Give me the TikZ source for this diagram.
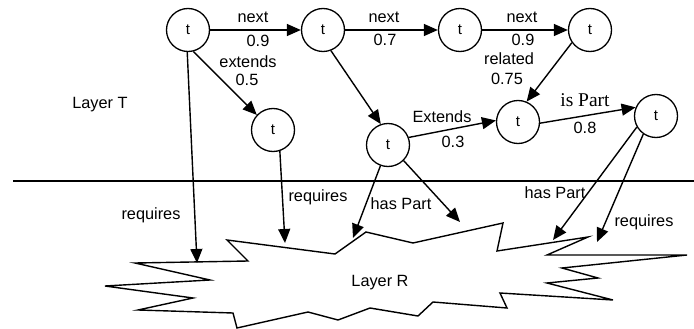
\documentclass[tikz,border=0pt]{standalone}
\usepackage{fontspec}
\setmainfont{Liberation Sans}
\newfontfamily\serifface{Liberation Serif}
\usetikzlibrary{arrows.meta}
\begin{document}
\begin{tikzpicture}[x=1pt,y=-1pt,
  tnode/.style={circle,draw,line width=1.3pt,minimum size=43pt,inner sep=0pt,font=\fontsize{15}{17}\selectfont},
  lbl/.style={inner sep=0pt,font=\fontsize{16.3}{18}\selectfont},
  serlbl/.style={inner sep=0pt,font=\serifface\fontsize{19.5}{21}\selectfont},
  conn/.style={line width=1.4pt,-{Triangle[length=14pt,width=12pt]}},
  plain/.style={line width=1.4pt}]
\useasboundingbox (0,0) rectangle (694,329);
% nodes
\node[tnode] (n1) at (188,30) {t};
\node[tnode] (n2) at (323,30) {t};
\node[tnode] (n3) at (460,30) {t};
\node[tnode] (n4) at (590,30) {t};
\node[tnode] (n5) at (273,130) {t};
\node[tnode] (n6) at (388,145) {t};
\node[tnode] (n7) at (518,122) {t};
\node[tnode] (n8) at (656,116) {t};
% layer separator
\coordinate (sepL) at (13,181);
\coordinate (sepR) at (694,181);
\draw[plain] (sepL) -- (sepR);
% Layer R starburst
\draw[plain,line join=miter] (227,240) -- (335,254) -- (366,232) -- (413,243) -- (503,223) -- (497,251)
  -- (588,237) -- (547,255) -- (687,255) -- (562,268) -- (598,278) -- (547,283) -- (613,300)
  -- (500,293) -- (507,308) -- (433,302) -- (418,316) -- (370,308) -- (338,320) -- (308,312)
  -- (237,328) -- (233,313) -- (138,310) -- (193,298) -- (105,286) -- (210,280) -- (135,263)
  -- (248,261) -- cycle;
\node[lbl] (layerR) at (380,283) {Layer R};
\node[lbl] (layerT) at (100,105) {Layer T};
% targets on Layer R
\coordinate (r1) at (197,263);
\coordinate (r2) at (285,243);
\coordinate (r3) at (353,238);
\coordinate (r4) at (460,222);
\coordinate (r5) at (553,240);
\coordinate (r6) at (597,242);
% connectors in layer T
\draw[conn] (n1) -- (n2);
\draw[conn] (n2) -- (n3);
\draw[conn] (n3) -- (n4);
\draw[conn] (n1.-76) -- (n5.137);
\draw[conn] (n2.-69) -- (n6.109);
\draw[conn] (n4.-145) -- (n7.67);
\draw[conn] (n6.20) -- (n7.176);
\draw[conn] (n7.-3) -- (n8.157);
% connectors to layer R
\draw[conn] (n1.-92) -- (r1);
\draw[conn] (n5.-72) -- (r2);
\draw[conn] (n6.-110) -- (r3);
\draw[conn] (n6.-45) -- (r4);
\draw[conn] (n8.-150) -- (r5);
\draw[conn] (n8.-125) -- (r6);
% labels
\node[lbl] (l1) at (253,17) {next};
\node[lbl] (l2) at (258,41) {0.9};
\node[lbl] (l3) at (248,62) {extends};
\node[lbl] (l4) at (247,80) {0.5};
\node[lbl] (l5) at (384,17) {next};
\node[lbl] (l6) at (385,40) {0.7};
\node[lbl] (l7) at (522,17) {next};
\node[lbl] (l8) at (523,40) {0.9};
\node[lbl] (l9) at (509,59) {related};
\node[lbl] (l10) at (507,79) {0.75};
\node[serlbl] (l11) at (585,100) {is Part};
\node[lbl] (l12) at (585,128) {0.8};
\node[lbl] (l13) at (442,117) {Extends};
\node[lbl] (l14) at (453,142) {0.3};
\node[lbl] (l15) at (151,215) {requires};
\node[lbl] (l16) at (318,197) {requires};
\node[lbl] (l17) at (401,204) {has Part};
\node[lbl] (l18) at (555,193) {has Part};
\node[lbl] (l19) at (644,222) {requires};
\end{tikzpicture}
\end{document}
